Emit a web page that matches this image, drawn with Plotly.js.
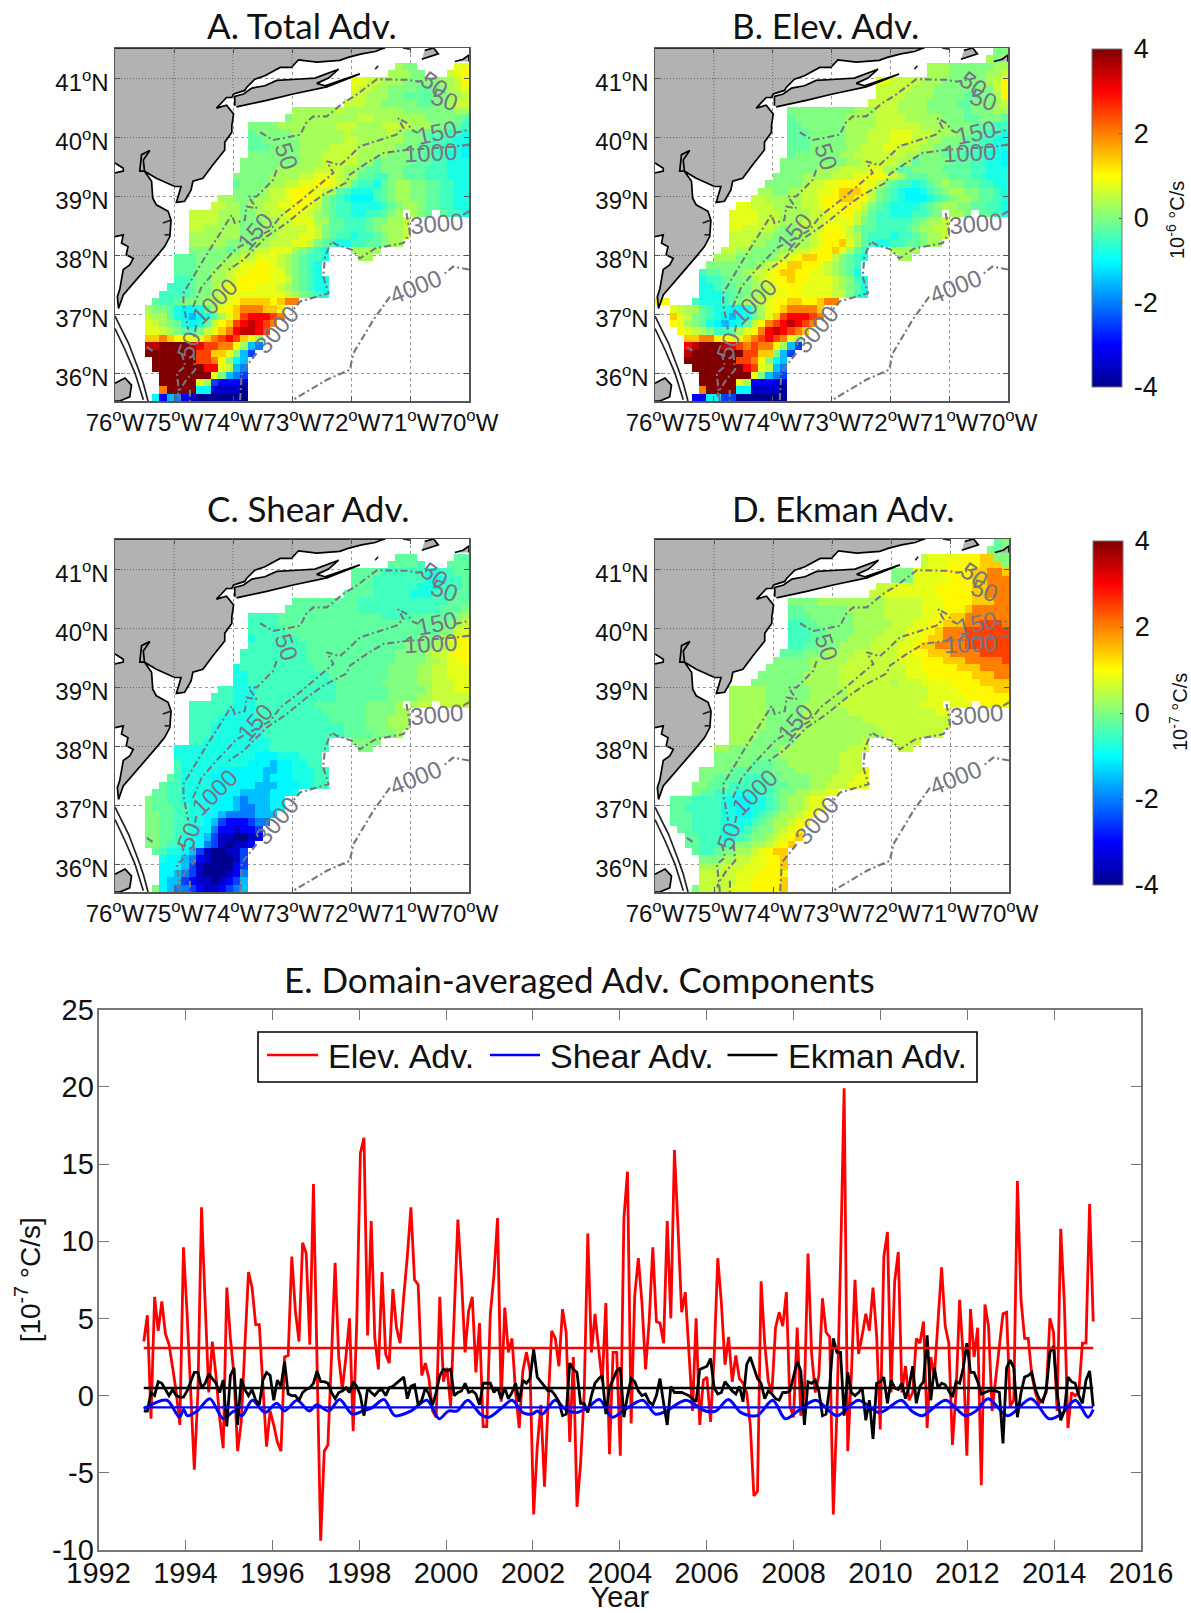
<!DOCTYPE html>
<html><head><meta charset="utf-8">
<script src="https://cdn.plot.ly/plotly-3.0.1.min.js"></script>
<style>html,body{margin:0;padding:0;background:#fff}</style></head>
<body><div id="chart" style="width:1191px;height:1613px"></div>
<script>
// ---------- map cell values, one letter per 1/8 degree cell, "startColumn:letters", rows top to bottom
const levelLetters = "abcdefghijklmnopqrstu";
const levelValues = [-4,-3.5,-3,-2.5,-2,-1.5,-1.05,-0.8,-0.5,-0.25,0,0.3,0.55,0.8,1.05,1.4,2,2.5,3,3.5,4];
const panelARows = ["","","38:lkk.....nn","37:lllkk...mno","32:nnmmlllkkkkkllmo","32:nmmllkkkkjjkklmn","32:mmlllkkjjjjkkllm","31:mmmllkkkkkjjkklmm",
"24:llllllmllllllllkkkkkkkll","23:klllllllllmmlllllllkkkkkj","18:kkkkllllllllmmmlllmmmmlllkkjji","18:jkkkkklllllllmlllllmlkkkjjjiih","18:jjkkkkkllllllmmllllllkkkjiiihh","18:jjjkkkkllllmmmmlllllkkkjjiiihg","18:kkkkkkklllmmmmmllllkkkjjjiihhg",
"17:kkkkkkkklllmmmmmlljkkkkjjjiihhh","17:kkkkklllllmmmmllkjjkkkjjjiiihhh","16:kkkkkllllmmnnnmlljjiikkjjjiiihhh","16:jkkkkllmmnnoonmljiihjkllkkjjiihh","16:kkkklmmnooonmljihhhijkllkkjjiihh","14:llkkkllmmnooonkjihgggijkllkkjjiihh","13:mmllkllmmnnoonmkjiihhhhijkllkjjiihh",
"10:mmmmlllkkllmmnnnmlkjiihhiijkl.lkj.jiih","10:mmmmlllkkkllmmnnnlljjiiijkkllm","10:mmlllllkkkllmmmmnmkjjiiijklllm","10:lllllllkkkllmmmnnmkjiihiijkllm","10:lllllkkkkllmmmnnmkjihhiijjkll","10:kkkkkjkllmmnnnlkjih...llll","8:jjjkkkkllmmnnnmlkjiih....ll",
"8:jjjkkkllmnnoonmlkjih","8:jjjkkllmnnooonnlkjih","8:iijkkllmnoooonnmkjihh","7:iiijkklmnooonnnmlkjihh","6:iiiijkklmnnnnnnnnmlkjih","5:jiijkkkllmnoppppopqq","4:lkkjhgghjlnopqqqppo","4:mlljhgfghjlnprsssrq","4:nmlkjhghjmoprstsrq","4:nnmlkjikmnpqsttsr","4:ppqpoonnpqrsrpnl",
"4:ttuuuutsrrqqolfe","4:uuuuuuurrppnkfd","5:uuuuuurrqokgf","5:uuuuuuussnmfe","6:uuuuuuunkfed","6:uuuuunldcccb","6:quuuuggbbbba","5:gcfecbaaaaaaa"];
const panelBRows = ["46:kk","45:lkl","37:lllkkkkkkll","37:lllkkkkkllm","30:nnmmmmlllkkkkkklmo","30:mmmmmlllkkkkkkkkmo","30:mmmmllllkkkkjjkklo","29:mmmmllllkkkkjjkkklm",
"18:kkkkkkkkklllmmmllllkkkkkjkkkll","18:jkkkkkkkllllmmmmlllllkkkjjkkkj","18:jjkkkkkkllllmmmmmmllllkkkjjjii","18:jjjkkkkklllmmmnnnmmmlllkkjjiih","18:jjjkkkkklllmmmnnnmmllkkkjjiihh","18:jjjkkkkkllmmmnnmmmllkkkjjiiihh","18:jkkkkkkllmmmmmmmllkkkjjjiiihhg",
"17:kkkkkkkkkllmmmmmlljkkkkjjjiihhg","17:kkkkklllmmmmnnlljjkkkkjjjjiihhh","16:kkkkllllmmmnnoonmljjjkkkjjjiihhh","15:kkkkklmmnnoooonmkjiihijklkkjjiihh","14:llkkllmmnnopppomkjihgghijkllkkjjih","13:mmlllllmmnooppoomkjihggghijkllkjjih","11:nnmmmllllmmnooooomkjihhhhijkllkkjjiih",
"10:nnnnmmmllllmmnnoomljiihhhiijk.llk.jjih","10:nnnnmmmlllmmmnnnnmkjiiiiijkllm","10:nnmmmmlkkllmmoonmkjjiiiijkllmm","10:mmmmllkkkllmnooomljiiihiijkllm","10:mmmllkkkkllmnoopnljihhiijjkll","9:mmllkkkkllmmnoopnlji...llll","8:lllkkkkklmnoppoomkjih....ll",
"7:kkkkkkklmnoppoonmlkji","6:ijjkkklmmnoppoonnmlkjh","6:hiijkkklmnoopoonnnmlkih","6:hhijjkkllmnooonnnnmlkjh","6:hhhijjkllmnnoonnnnmmkih","0:oo...ihhhijkllmnooppoopqq","2:nmlljihhgghjlnopqqqqp","2:pnmkjihgfghjlnprsssrq","2:onlkjhgfghjmoqrstsrq","3:onmlkiijlnoqstsrqp","4:ppqqoonnpqrsrqnl",
"4:stuuutsrqrqqolfd","4:tuuuuuuurrppkfd","4:uuuuuuurrqokgf","5:uuuuuuusrnmfe","6:uuuuuuunkfed","6:uuuuunlcccbb","6:quuuuggbbbba","5:ccggddaaaaaaa"];
const panelCRows = ["","","38:jjj.....jj","37:jjjji...jjj","32:jjjjiiiiiihhiijj","32:jjjiiiiiiihhhiij","32:jjjiiiiiihhhiiij","31:jjjjiiiiihhhiiijj",
"24:jjjjjjjjjiiiiiiiiiiiijjj","23:jjjjjjjjjjiiiiiiiiiiijjjk","18:iiiijjjjjjjjjjjjjjiiiijjjjjjkl","18:iiiijjjjjjjjjjjjjjjjjjjjjjkklm","18:iiiiijjjjjjjjjjjjjjjjjjjjjkkmn","18:hiiiiiijjjjjjjjjjjjjjjjkklmnoo","18:iiiiiiiijjjjjjjjjjjjjkkkkllmno",
"17:iiiiiiiiijjjjjjjjjjjjkkkklmmnoo","17:iiiiiiiiijjjjjjjjjjjjkkkkllmnno","16:hiiiiiiiiiijjjjjjjjjjkkkkllmmnnn","16:hhiiiiiiiiiiijjjjjjjjkkkkllmmnnn","16:hhiiiiiiiiiiiijjjjjjkkkkkllmmmnn","14:iihhhiiiiiiiiiiijjjjjjjkkkkklmmmnn","13:iiihhhiiiiiiiiiiijjjjjjjkkkkllmmmmm",
"10:iiiiiihhhiiiiiiiijjjjjjjkkkkl.lmm.mmmm","10:iiiiihhhhiiiiiiiiijjjjjjkkkkll","10:iiiihhhhhiiiiiiiiiijjjjjkkklll","10:iiihhhhhhhiiiiiiiiiiijjjkkklll","10:iiihhhhhhhiiiiiiiiiiijjjjkkkl","10:iihhhhhhhhhiiiiiiii...kkkk","8:hhhhhhhhhhhhhiiiiiiii....kk",
"8:hhhhhhhhhhhggghhhiii","8:ihhhhhhhhhgggfgghhii","8:ihhhhhggggggffgghhhii","7:jihhhhgggggggfggghhhii","6:jiihhhhggggggfffggghhii","5:jjiihhhgggggffffgggh","4:kjjiihhhggggfefffgg","4:kjjjiihhhgggfeeffgg","4:kkjjiihhggfeeeefff","4:kkjjiihhgfdcccdee","4:kkjjiihggeccbccd",
"4:kkjjihhgfdbbaabc","4:kkjiihggedbabbc","5:jihhgfdbaabbd","6:hggfecbaaabd","6:gggfdbaaaacd","6:ggfedbaaabce","6:gffdcbbabcdf","5:kgfeedcbbcdef"];
const panelDRows = ["46:jk","45:kjk","36:mnnnnoooppkk","36:mnnnoooopppk","32:kkknnnnooooppqqp","32:kkknnnnnoooppqqq","30:mmnnnnnnoooooppqqq","29:mmnnnnnnnoooooppqqq",
"18:kkkklllllllllmmmmmnnnoooopppqq","18:jjkkkkkklllllmmmmmnnnooopqqqqq","18:jjjkkkkkkllllmmmmmnnooppqqqqqq","18:iijjkkkkklllllmmmnnoopppqqrrrq","18:iiijjkkkkllllmmmnnoopqqqrrrrrr","18:iiijjkkkllllmmmmnnoppqqqrrrrrr","18:iijjkkkllllmmmmnnoppqqqqrrrrrr",
"17:jjjkkkllllmmmmmmnnoopppqqqqrrrr","16:kkkkklllllmmmmmmmnnnooopppqqqqqr","15:kkkkkkllllmmmmmmmmmnnooooopppqqqq","14:kkkkkklllllmmmmmmmmmnnnoooooopppqq","13:kkkkkkklllllmmmmmmmlmmmnnnnoooopppp","10:lllllkkkkkklllllmmmmmmmmmmmnnnnooooopp","10:lllllkkkkkklllllmmmmmmmmmmmnnnnnoooooo",
"10:lllllkkkkklllllmmmmmmmmmmmnnn.nnn.oooo","10:lllllkkkkkllllllmmmmmmmmmmmmnn","10:lllllkkkkkllllllllmmmmmmmmmmmm","10:lllllkkkkkllllllllllmmmmmmmmmm","10:llllkkkkkllllllllllllmmmmmmmm","10:lllkkkkkklllllllllm...mmmm","8:llkkkkkkklllllllllmmm....mm",
"8:kkkkkkkkkllllllllmmm","8:kkkkkjjjkklllllllmmm","6:kkkkjjjjjjkkkllllllmmmn","6:kkjjjjiiijjkkkklllmmmnn","5:kkjjjiiiiiijjkkkllmmmnnn","5:kjjiiihhhiijkkllmmnn","2:jjjiiiihhgghhijkllmnn","2:jjiiiiihhgghhijkllmnn","2:jjjiiiihhgghijkllmno","2:jjjiiiihhhhijkllmno","3:jjiiiihhhijkklmno",
"4:jjiiihhijkklmnop","4:jjiiiijkkllmnop","5:jiijkkllmnopp","6:kkkllmmnnoop","6:lllmmmnnnoop","6:mmmmmnnnoooo","6:mmmmmnnoooop","5:kmmmmnnnoooop"];

// ---------- coast outlines, [lon, lat]
const mainland = [[-76,41.52],[-71.42,41.52],[-71.45,41.515],[-71.59,41.46],[-71.82,41.42],[-72.05,41.36],[-72.19,41.31],[-72.58,41.28],[-72.89,41.32],[-73.01,41.19],[-73.20,41.19],[-73.46,41.05],[-73.63,40.99],[-73.77,40.85],[-73.80,40.80],[-73.99,40.74],[-74.02,40.68],[-74.11,40.68],[-74.28,40.50],[-74.11,40.55],[-73.99,40.40],[-74.02,40.20],[-74.02,40.09],[-74.14,39.92],[-74.14,39.79],[-74.34,39.54],[-74.51,39.31],[-74.68,39.26],[-74.71,39.11],[-74.82,38.92],[-74.96,38.90],[-74.88,39.17],[-74.99,39.17],[-75.30,39.31],[-75.50,39.43],[-75.58,39.43],[-75.55,39.71],[-75.41,39.78],[-75.52,39.62],[-75.50,39.43],[-75.38,39.26],[-75.36,38.97],[-75.30,38.86],[-75.10,38.75],[-75.05,38.60],[-75.07,38.32],[-75.16,38.15],[-75.30,37.98],[-75.47,37.78],[-75.69,37.53],[-75.86,37.33],[-75.94,37.10],[-75.96,37.30],[-75.92,37.42],[-75.86,37.76],[-75.75,37.84],[-75.69,37.95],[-75.81,38.01],[-75.78,38.15],[-75.89,38.21],[-75.86,38.35],[-76,38.32]];
const longIsland = [[-73.97,40.54],[-73.97,40.70],[-73.82,40.74],[-73.68,40.84],[-73.46,40.88],[-73.26,40.97],[-72.92,40.99],[-72.61,41.01],[-72.21,41.16],[-72.38,41.01],[-72.58,40.92],[-72.44,40.88],[-71.85,41.08],[-72.41,40.86],[-72.98,40.74],[-73.43,40.63],[-73.94,40.52]];
const vineyard = [[-70.75,41.48],[-70.60,41.52],[-70.52,41.42],[-70.80,41.33]];
const nantucket = [[-70.24,41.29],[-70.10,41.33],[-70,41.40],[-70,41.29]];
const carolinaPatch = [[-76,35.83],[-75.83,35.92],[-75.72,35.80],[-75.75,35.60],[-75.92,35.53],[-76,35.53]];
const bayPatch = [[-76,39.57],[-75.86,39.48],[-75.86,39.43],[-76,39.40]];
const barrierOuter = [[-76,36.97],[-75.77,36.51],[-75.60,36.06],[-75.52,35.83],[-75.44,35.53]];
const barrierInner = [[-76,36.76],[-75.83,36.40],[-75.66,36.00],[-75.52,35.55]];
const blockIsland = [[-71.59,41.16],[-71.54,41.22]];
const inletOne = [[-75.19,38.55],[-75.05,38.60]];
const inletTwo = [[-75.16,38.35],[-75.06,38.35]];
const sakonnet = [[-71.12,41.52],[-71.0,41.5]];

// ---------- isobaths, [lon, lat]
const iso50north = [[-73.54,40.09],[-73.32,39.96],[-73.09,40.00],[-72.86,40.05],[-72.76,40.25],[-72.64,40.36],[-72.41,40.36],[-72.13,40.59],[-71.93,40.71],[-71.56,40.99],[-71.06,40.98],[-70.86,40.95],[-70.55,41.01]];
const iso50south = [[-73.26,39.45],[-73.32,39.28],[-73.60,39.00],[-73.74,39.00],[-73.60,38.80],[-73.77,38.83],[-73.80,38.60],[-73.97,38.55],[-74.02,38.69],[-74.22,38.38],[-74.45,38.01],[-74.84,37.36],[-74.84,37.16],[-74.79,36.91],[-74.76,36.74]];
const iso50capeA = [[-74.67,36.34],[-74.64,36.06],[-74.79,35.89],[-74.90,35.72],[-74.95,35.61]];
const iso50capeB = [[-74.87,36.34],[-74.81,36.12],[-74.95,36.0],[-74.90,35.53]];
const iso50capeC = [[-74.73,35.72],[-74.73,35.53]];
const iso50capeD = [[-75.46,36.45],[-75.35,36.37]];
const iso150 = [[-70.86,40.08],[-70.94,40.11],[-71.06,40.25],[-71.20,40.33],[-71.11,40.16],[-71.23,40.05],[-71.51,39.96],[-71.85,39.85],[-72.02,39.68],[-72.19,39.53],[-72.41,39.60],[-72.30,39.40],[-72.64,39.11],[-72.84,38.94],[-73.20,38.66],[-73.37,38.43],[-73.94,38.12],[-74.28,37.76],[-74.53,37.47],[-74.70,37.08]];
const iso150east = [[-70.24,40.08],[-70,40.13]];
const iso1000 = [[-70,39.88],[-70.21,39.85],[-71.06,39.79],[-71.45,39.74],[-71.73,39.57],[-72.02,39.37],[-72.07,39.24],[-72.47,39.03],[-72.75,38.83],[-73.09,38.55],[-73.43,38.32],[-73.82,37.93],[-74.11,37.73]];
const iso1000south = [[-74.62,36.82],[-74.67,36.57]];
const iso3000east = [[-70,38.75],[-70.10,38.69]];
const iso3000 = [[-71.06,38.72],[-71.00,38.38],[-71.11,38.21],[-71.59,38.12],[-71.85,37.95],[-71.99,38.10],[-72.24,38.18],[-72.33,38.24],[-72.44,37.98],[-72.47,37.64],[-72.38,37.36],[-72.86,37.22],[-72.98,37.08]];
const iso3000south = [[-73.60,36.34],[-73.85,36.03],[-73.88,35.53]];
const iso4000east = [[-70,37.76],[-70.27,37.81],[-70.44,37.67]];
const iso4000 = [[-71.34,37.30],[-71.62,36.91],[-71.96,36.34],[-72.02,36.06],[-72.41,35.89],[-72.98,35.55]];
const isoLabelText = ["50","150","1000","50","3000","3000","4000","1000","150","50","50"];
const isoLabelLon = [-73.09,-73.63,-74.32,-74.76,-73.26,-70.55,-70.90,-70.66,-70.55,-70.58,-70.41];
const isoLabelLat = [39.68,38.41,37.22,36.48,36.74,38.55,37.47,39.74,40.08,40.90,40.64];
const isoLabelAngle = [72,-50,-45,-70,-50,-5,-22,-3,-12,35,18];

// dotted grid segments visible over the land
const landGridLon = [[-75,41.52,38.90],[-74,41.52,40.72],[-73,41.52,41.2],[-72,41.52,41.33]];
const landGridLat = [[41,-76,-73.63],[40,-76,-74.03],[39,-76,-75.36],[38,-76,-75.30],[36,-76,-75.8]];

const lonTicks = [-76,-75,-74,-73,-72,-71,-70];
const lonTickText = ["76<sup>o</sup>W","75<sup>o</sup>W","74<sup>o</sup>W","73<sup>o</sup>W","72<sup>o</sup>W","71<sup>o</sup>W","70<sup>o</sup>W"];
const latTicks = [36,37,38,39,40,41];
const latTickText = ["36<sup>o</sup>N","37<sup>o</sup>N","38<sup>o</sup>N","39<sup>o</sup>N","40<sup>o</sup>N","41<sup>o</sup>N"];
const panelTitles = ["A. Total Adv.","B. Elev. Adv.","C. Shear Adv.","D. Ekman Adv."];
const colorTicks = [-4,-2,0,2,4];
const colorTickText = ["-4","-2","0","2","4"].map(t=>"\u2009"+t);

// ---------- time series (monthly, 1993 to 2014)
const elevAdv = [3.5,5.2,-1.5,6.4,4.2,6.1,4,3.3,1.8,.2,-1.9,9.6,5.3,.2,-4.8,.2,12.2,6,.2,3.5,1.3,-1.4,-3.4,7,3.7,1.3,-3.6,-1.7,3.4,8,7,4.6,4.6,.2,-3.3,-1,-1.9,-3,-3.6,2.5,2.6,9,5.5,3.5,9.9,9.2,3.3,13.7,2.5,-9.4,-3.6,-3.2,2.5,8.6,2.5,.4,2.5,5,-2.3,4.8,15.7,16.7,3.9,11.3,3.7,1.7,8,2.7,2.1,6.9,4.4,3.4,6.4,9,12.2,7.5,7.2,1.3,2.1,1.1,-1,-1.4,6.4,.9,1.8,-.7,5.3,11.4,7.6,2.8,5.5,6.4,1.5,4.7,-2,-2,5.3,7.8,11.5,-.4,5.7,2.8,3.7,.2,-2.1,1.6,2.8,1.6,-7.7,-3.3,-.6,-5.9,-.5,4.2,3.7,1.9,5.6,4.1,-3,2.5,-7.2,-4.4,.2,10.5,2.8,5.3,3,.9,6,-3.8,
2.8,2.8,-3.9,11.5,14.5,-1.8,6.5,8.9,6,1.7,4.8,9.6,4.8,4.7,3.4,11.3,5,15.9,10.8,5.4,6.7,3.2,-1,5,-1.9,1,1.2,-1.7,2.5,8.9,6,2,3.8,.9,2.6,1.1,.8,.2,-1.9,-6.5,-6.2,7.4,3.4,.9,.2,4.4,5.4,4.5,6.7,-.7,-1.4,4.4,-1.3,.2,9.2,2.7,.2,1.3,6.3,4.1,3.8,-7.7,-1,8.5,19.9,-3.6,1.3,7.5,2.7,3.9,5.3,4.2,7,3.9,-2.2,9,10.6,.2,7.4,9.3,.2,1.9,-.3,.2,3.7,3.4,4.8,-2.1,2.5,1.3,4.6,8.3,4.5,3.4,-3.2,.2,6.2,2.5,-3.9,5.6,2.5,4.4,-5.8,5.9,4.5,-1,1.1,3.4,5.3,5.4,-.7,-.3,13.9,6.2,3.7,3.7,1.3,.2,-.5,-.3,.2,5,4.1,-1,10.8,6,-2.1,.2,0,.2,3.4,3.4,12.4,4.8];
const ekmanAdv = [-1,-1,.2,0,.9,.8,.4,0,.4,0,-.1,-.1,.3,.9,1.5,1.5,.5,.8,1.4,1.1,.8,.2,1,-2,1.3,1.8,-1.9,1.1,.4,0,.4,-.3,-.6,1,1.5,1.3,-.3,1,.6,2.2,.1,0,0,-.3,.2,.4,.5,.8,1.6,.9,.9,.8,.2,-.2,.2,.3,.5,.2,.9,.6,0,-1.3,.5,.2,0,.3,.4,0,.5,.6,.8,1,1.2,-.2,.6,.7,-.6,-.3,.5,.1,-.6,.2,1.3,1.7,1.6,1.7,0,.2,.3,.8,.2,.3,.1,-.6,.8,.8,.8,.2,.5,-.2,.5,-.2,.2,.8,-.4,1,.8,1.1,3,1.2,.9,.6,.3,.3,0,-.4,-1.3,-1.2,2.1,1.7,1.5,-.5,-.5,-1.1,0,.8,1.1,1.3,-1.2,.5,
1,1.6,1.8,-1.4,0,1.1,.9,.3,0,.1,-.4,-.6,0,1.1,-.5,-1.9,.6,.2,.2,.2,.1,0,-.2,-.4,1.7,1.8,1.9,2.4,.5,.1,.2,.9,.6,.3,.1,.6,-.4,2,2.5,1.8,1.1,.8,-.2,.3,.1,-.2,-.3,.2,.2,.3,1.2,2.2,1.6,-1.9,.9,.8,1,.3,-1.3,-1.2,.6,3.7,2.8,2.8,-1.3,1.5,.2,0,.2,.5,-1.6,-.3,-2.8,.8,.9,1.2,-.5,1,.5,.4,.8,-.2,.6,1.9,-.5,.6,.9,3.9,-.3,1.8,.5,.8,.7,.3,-.1,.9,.8,1.8,3.4,1.5,1.5,.9,.1,.2,.3,.3,.3,.2,-3.1,1.8,2.3,1.8,-1.4,.2,1.2,1.3,1.5,.4,-.2,-.4,.4,2.8,3.2,.2,-1.6,-1,1.2,.9,.8,0,-.5,1,1.6,-.7];
const shearYears = [1993.04,1993.57,1993.86,1993.96,1994.04,1994.27,1994.56,1994.87,1995.13,1995.30,1995.54,1995.83,1996.10,1996.28,1996.57,1996.85,1997.02,1997.30,1997.55,1997.84,1998.08,1998.29,1998.57,1998.82,1999.19,1999.56,1999.84,2000.05,2000.25,2000.50,2000.79,2000.99,2001.28,2001.52,2001.77,2001.98,2002.10,2002.22,2002.51,2002.75,2003.00,2003.25,2003.53,2003.82,2004.12,2004.53,2004.82,2005.07,2005.52,2005.97,2006.21,2006.50,2006.79,2007.16,2007.52,2007.81,2008.10,2008.51,2009.00,2009.49,2009.98,2010.48,2010.72,2010.97,2011.50,2011.95,2012.20,2012.48,2012.93,2013.47,2013.88,2014.16,2014.49,2014.78,2014.90];
const shearAdv = [-.85,-.3,-1.4,-.9,-1.3,-1,-.2,-1.5,-1,-1.3,-.3,-1.1,-.5,-1,-.3,-1,-.6,-1,-.25,-1.2,-1,-.8,-.25,-1.3,-1,-.3,-1.5,-1,-1,-.3,-1.2,-1.4,-.8,-.3,-1.1,-1.2,-1,-1.2,-.3,-.9,-1.1,-.8,-.25,-1.4,-.9,-.3,-1.2,-1,-.3,-1,-1,-.25,-1.1,-1.3,-.3,-1.5,-1,-.3,-1.3,-.3,-1.1,-.3,-1,-1.3,-.3,-1.3,-1,-.2,-1.3,-.2,-1.5,-1.2,-.3,-1.4,-.9];
const elevMean = 3.08, shearMean = -0.76, ekmanMean = 0.49;
const seriesNames = ["Elev. Adv.","Shear Adv.","Ekman Adv."];
const seriesColors = ['#ff0000','#0000ff','#000000'];
const yearTicks = [1992,1994,1996,1998,2000,2002,2004,2006,2008,2010,2012,2014,2016];
const valueTicks = [-10,-5,0,5,10,15,20,25];
const valueTickText = ["-10","-5","0","5","10","15","20","25"];

// ---------- styling
const W = 1191, H = 1613;
const jet = [[0,'rgb(0,0,143)'],[0.125,'rgb(0,0,255)'],[0.375,'rgb(0,255,255)'],[0.625,'rgb(255,255,0)'],[0.875,'rgb(255,0,0)'],[1,'rgb(128,0,0)']];
const sans = '"Liberation Sans",Arial,sans-serif';
const titleFont = 'Lato,"Noto Sans",sans-serif';
const isoColor = 'rgb(118,118,130)';
const lonMin=-76, lonMax=-70, latMin=35.53, latMax=41.52;
const panels = [
  {rows:panelARows, box:[115,469,48,401], titleX:302, titleY:25},
  {rows:panelBRows, box:[655,1008,48,401], titleX:825, titleY:25},
  {rows:panelCRows, box:[115,469,539,892], titleX:308, titleY:508},
  {rows:panelDRows, box:[655,1009,539,892], titleX:843, titleY:508}
];
function decode(rows){
  const z = rows.map(r=>{
    const out = new Array(48).fill(null);
    if(!r) return out;
    const [s,v] = r.split(':');
    for(let i=0;i<v.length && +s+i<48;i++){
      const k = levelLetters.indexOf(v[i]);
      if(k>=0) out[+s+i] = levelValues[k];
    }
    return out;
  });
  return z.reverse();
}
const cellLon = Array.from({length:48},(_,i)=>lonMin+(i+0.5)*(lonMax-lonMin)/48);
const cellLat = Array.from({length:48},(_,j)=>latMin+(j+0.5)*(latMax-latMin)/48);
function joinPaths(paths){
  const x=[],y=[];
  paths.forEach((p,i)=>{ if(i){x.push(null);y.push(null);} p.forEach(q=>{x.push(q[0]);y.push(q[1]);}); });
  return {x,y};
}
const data=[], annotations=[], layout={};
panels.forEach((p,i)=>{
  const n=i+1, xn='x'+(n>1?n:''), yn='y'+(n>1?n:'');
  const hm={type:'heatmap',x:cellLon,y:cellLat,z:decode(p.rows),zmin:-4,zmax:4,colorscale:jet,xaxis:xn,yaxis:yn,showscale:false,hoverongaps:false};
  if(i===0||i===2){
    const top=i===0?49:541, len=i===0?338:344, left=i===0?1092:1093;
    hm.showscale=true;
    hm.colorbar={x:left/W,xanchor:'left',xpad:0,ypad:0,y:1-top/H,yanchor:'top',len:len/H,lenmode:'fraction',thickness:30,thicknessmode:'pixels',
      tickmode:'array',tickvals:colorTicks,ticktext:colorTickText,ticks:'inside',ticklen:3,tickcolor:'#555',outlinecolor:'#777',outlinewidth:1,tickfont:{family:sans,size:27,color:'#111'}};
  }
  data.push(hm);
  const land=joinPaths([mainland,longIsland,vineyard,nantucket,carolinaPatch]);
  data.push({type:'scatter',mode:'lines',x:land.x,y:land.y,fill:'toself',fillcolor:'rgb(178,178,178)',line:{color:'#000',width:1.7},xaxis:xn,yaxis:yn,showlegend:false,hoverinfo:'skip'});
  data.push({type:'scatter',mode:'lines',x:bayPatch.map(q=>q[0]),y:bayPatch.map(q=>q[1]),fill:'toself',fillcolor:'#fff',line:{color:'#000',width:1.7},xaxis:xn,yaxis:yn,showlegend:false,hoverinfo:'skip'});
  const coast=joinPaths([barrierOuter,barrierInner,blockIsland,inletOne,inletTwo,sakonnet]);
  data.push({type:'scatter',mode:'lines',x:coast.x,y:coast.y,line:{color:'#222',width:1.7},xaxis:xn,yaxis:yn,showlegend:false,hoverinfo:'skip'});
  const gx=[],gy=[];
  landGridLon.forEach(g=>{gx.push(g[0],g[0],null);gy.push(g[1],g[2],null);});
  landGridLat.forEach(g=>{gx.push(g[1],g[2],null);gy.push(g[0],g[0],null);});
  data.push({type:'scatter',mode:'lines',x:gx,y:gy,line:{color:'#666',width:1,dash:'1px,2px'},xaxis:xn,yaxis:yn,showlegend:false,hoverinfo:'skip'});
  const iso=joinPaths([iso50north,iso50south,iso50capeA,iso50capeB,iso50capeC,iso50capeD,iso150,iso150east,iso1000,iso1000south,iso3000east,iso3000,iso3000south,iso4000east,iso4000]);
  data.push({type:'scatter',mode:'lines',x:iso.x,y:iso.y,line:{color:isoColor,width:2.1,dash:'7px,3px,2px,3px'},xaxis:xn,yaxis:yn,showlegend:false,hoverinfo:'skip',connectgaps:false});
  isoLabelText.forEach((t,k)=>annotations.push({text:t,x:isoLabelLon[k],y:isoLabelLat[k],xref:xn,yref:yn,xanchor:'center',yanchor:'middle',showarrow:false,textangle:isoLabelAngle[k],font:{family:sans,size:24,color:isoColor}}));
  const base={showline:true,linecolor:'#555',linewidth:1.5,mirror:'allticks',ticks:'inside',ticklen:5,tickcolor:'#555',showgrid:true,gridcolor:'#999',griddash:'dot',gridwidth:1,zeroline:false,fixedrange:true,tickangle:0,tickfont:{family:sans,size:24,color:'#111'}};
  const xk='xaxis'+(n>1?n:''), yk='yaxis'+(n>1?n:'');
  layout[xk]=Object.assign({},base,{domain:[p.box[0]/W,p.box[1]/W],range:[lonMin,lonMax],anchor:yn,tickmode:'array',tickvals:lonTicks,ticktext:lonTickText});
  layout[yk]=Object.assign({},base,{domain:[1-p.box[3]/H,1-p.box[2]/H],range:[latMin,latMax],anchor:xn,tickmode:'array',tickvals:latTicks,ticktext:latTickText,ticklabelshift:4});
  annotations.push({text:panelTitles[i],xref:'paper',yref:'paper',x:p.titleX/W,y:1-p.titleY/H,xanchor:'center',yanchor:'middle',showarrow:false,font:{family:titleFont,size:35,color:'#111'}});
});
annotations.push({text:'10<sup>-6</sup> °C/s',xref:'paper',yref:'paper',x:1176/W,y:1-220/H,xanchor:'center',yanchor:'middle',textangle:-90,showarrow:false,font:{family:sans,size:20,color:'#111'}});
annotations.push({text:'10<sup>-7</sup> °C/s',xref:'paper',yref:'paper',x:1178/W,y:1-712/H,xanchor:'center',yanchor:'middle',textangle:-90,showarrow:false,font:{family:sans,size:20,color:'#111'}});
annotations.push({text:'E. Domain-averaged Adv. Components',xref:'paper',yref:'paper',x:579/W,y:1-979/H,xanchor:'center',yanchor:'middle',showarrow:false,font:{family:titleFont,size:35,color:'#111'}});

// time series
const first=1993.04,last=2014.9;
const yearsFor=a=>a.map((_,i)=>first+i*(last-first)/(a.length-1));
const e={xaxis:'x5',yaxis:'y5',showlegend:false};
data.push(Object.assign({type:'scatter',mode:'lines',name:seriesNames[0],x:yearsFor(elevAdv),y:elevAdv,line:{color:seriesColors[0],width:2.8}},e));
data.push(Object.assign({type:'scatter',mode:'lines',name:seriesNames[1],x:shearYears,y:shearAdv,line:{color:seriesColors[1],width:3,shape:'spline',smoothing:0.9}},e));
data.push(Object.assign({type:'scatter',mode:'lines',name:seriesNames[2],x:yearsFor(ekmanAdv),y:ekmanAdv,line:{color:seriesColors[2],width:2.8}},e));
[elevMean,shearMean,ekmanMean].forEach((m,k)=>data.push(Object.assign({type:'scatter',mode:'lines',x:[first,last],y:[m,m],line:{color:seriesColors[k],width:2.4}},e)));
const eBase={showline:true,linecolor:'#777',linewidth:2,mirror:'allticks',ticks:'inside',ticklen:10,tickcolor:'#777',showgrid:false,zeroline:false,fixedrange:true,tickfont:{family:sans,size:29,color:'#111'}};
layout.xaxis5=Object.assign({},eBase,{domain:[98.6/W,1141/W],range:[1992,2016],anchor:'y5',tickvals:yearTicks,tickmode:'array',tickangle:0,ticklabelstandoff:-4,title:{text:'Year',font:{family:sans,size:29,color:'#111'},standoff:10}});
layout.yaxis5=Object.assign({},eBase,{domain:[1-1550/H,1-1009.6/H],range:[-10,25],anchor:'x5',tickvals:valueTicks,ticktext:valueTickText,tickmode:'array',ticklabelstandoff:-3,title:{text:'[10<sup>-7</sup> °C/s]',font:{family:sans,size:28,color:'#111'},standoff:3}});

// legend box
const legendLineX=[[267,318],[490,540],[727.5,777.5]], legendTextX=[326,547.5,785.7], legendY=1055;
const legendShapes=[{type:'rect',xref:'paper',yref:'paper',x0:258/W,x1:977/W,y0:1-1082/H,y1:1-1032/H,fillcolor:'#fff',line:{color:'#000',width:1.6},layer:'above'}];
legendLineX.forEach((l,k)=>{
  legendShapes.push({type:'line',xref:'paper',yref:'paper',x0:l[0]/W,x1:l[1]/W,y0:1-legendY/H,y1:1-legendY/H,line:{color:seriesColors[k],width:2.6},layer:'above'});
  annotations.push({text:seriesNames[k],xref:'paper',yref:'paper',x:legendTextX[k]/W,y:1-(legendY+1)/H,xanchor:'left',yanchor:'middle',showarrow:false,font:{family:sans,size:34,color:'#111'}});
});

Object.assign(layout,{
  width:W,height:H,margin:{l:0,r:0,t:0,b:0},paper_bgcolor:'#fff',plot_bgcolor:'#fff',showlegend:false,
  annotations,
  shapes:[{type:'rect',xref:'paper',yref:'paper',x0:1041/W,x1:1075/W,y0:1-440/H,y1:1-405/H,fillcolor:'#fff',line:{width:0},layer:'above'},
          {type:'rect',xref:'paper',yref:'paper',x0:1041/W,x1:1075/W,y0:1-930/H,y1:1-896/H,fillcolor:'#fff',line:{width:0},layer:'above'}].concat(legendShapes)
});
Plotly.newPlot('chart',data,layout,{staticPlot:true,displayModeBar:false});
</script></body></html>
